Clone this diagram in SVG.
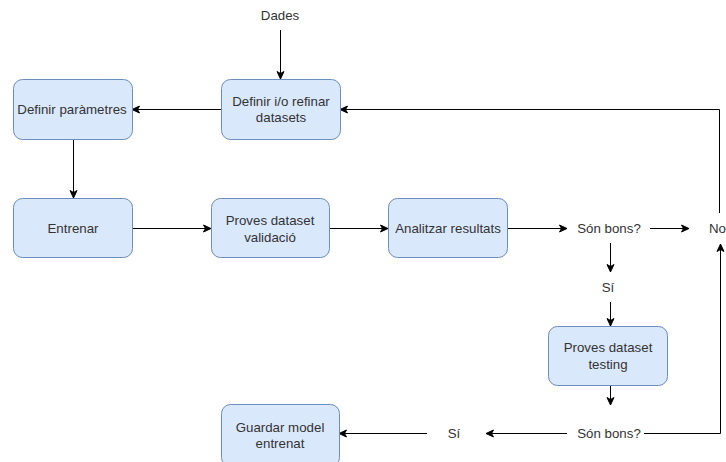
<svg xmlns="http://www.w3.org/2000/svg" width="726" height="462" viewBox="0 0 726 462">
  <defs>
    <marker id="arrow" markerUnits="userSpaceOnUse" markerWidth="10" markerHeight="10" viewBox="0 0 10 10" refX="9" refY="5" orient="auto">
      <path d="M1.5,1.5 L9,5 L1.5,8.5 L3.5,5 Z" fill="#000" stroke="#000" stroke-width="1"/>
    </marker>
    <style>
      .box { fill: #dae8fc; stroke: #6c8ebf; stroke-width: 1; }
      .lbl { font-family: "Liberation Sans", Arial, Helvetica, sans-serif; font-size: 13.3px; fill: #333333; text-anchor: middle; dominant-baseline: central; }
      .edge { fill: none; stroke: #000; stroke-width: 1; }
      .arr { marker-end: url(#arrow); }
    </style>
  </defs>
  <rect width="726" height="462" fill="#ffffff"/>

  <!-- connectors -->
  <g id="connectors">
    <path class="edge arr" d="M280.5,30 V79"/>
    <path class="edge arr" d="M221,109.5 H132"/>
    <path class="edge arr" d="M73.5,139 V198"/>
    <path class="edge arr" d="M132,228.5 H211"/>
    <path class="edge arr" d="M329,228.5 H388"/>
    <path class="edge arr" d="M507,228.5 H567"/>
    <path class="edge arr" d="M650,228.5 H689"/>
    <path class="edge arr" d="M719.5,213 V109.5 H340"/>
    <path class="edge arr" d="M610.5,243 V272"/>
    <path class="edge arr" d="M610.5,302 V326"/>
    <path class="edge arr" d="M610.5,385 V405"/>
    <path class="edge arr" d="M567,433.5 H486"/>
    <path class="edge arr" d="M427,433.5 H339"/>
    <path class="edge arr" d="M644,433.5 H720.5 V244"/>
  </g>

  <!-- free labels -->
  <g id="labels">
    <text class="lbl" x="280" y="15">Dades</text>
    <text class="lbl" x="609" y="228">Són bons?</text>
    <text class="lbl" x="709" y="228" style="text-anchor:start">No</text>
    <text class="lbl" x="608" y="287">Sí</text>
    <text class="lbl" x="609" y="433">Són bons?</text>
    <text class="lbl" x="454" y="433">Sí</text>
  </g>

  <g id="definir-parametres">
    <rect class="box" x="13.5" y="79.5" width="119" height="60" rx="9"/>
    <text class="lbl" x="72" y="109">Definir paràmetres</text>
  </g>
  <g id="definir-datasets">
    <rect class="box" x="221.5" y="79.5" width="119" height="60" rx="9"/>
    <text class="lbl" x="281" y="101">Definir i/o refinar</text>
    <text class="lbl" x="281" y="117">datasets</text>
  </g>
  <g id="entrenar">
    <rect class="box" x="13.5" y="198.5" width="119" height="59" rx="9"/>
    <text class="lbl" x="73" y="228">Entrenar</text>
  </g>
  <g id="proves-validacio">
    <rect class="box" x="211.5" y="198.5" width="118" height="59" rx="9"/>
    <text class="lbl" x="270" y="220">Proves dataset</text>
    <text class="lbl" x="270" y="237">validació</text>
  </g>
  <g id="analitzar-resultats">
    <rect class="box" x="388.5" y="198.5" width="119" height="59" rx="9"/>
    <text class="lbl" x="448" y="228">Analitzar resultats</text>
  </g>
  <g id="proves-testing">
    <rect class="box" x="548.5" y="326.5" width="119" height="59" rx="9"/>
    <text class="lbl" x="608" y="347">Proves dataset</text>
    <text class="lbl" x="608" y="364">testing</text>
  </g>
  <g id="guardar-model">
    <rect class="box" x="221.5" y="404.5" width="118" height="62" rx="9"/>
    <text class="lbl" x="280" y="427">Guardar model</text>
    <text class="lbl" x="280" y="443">entrenat</text>
  </g>
</svg>
